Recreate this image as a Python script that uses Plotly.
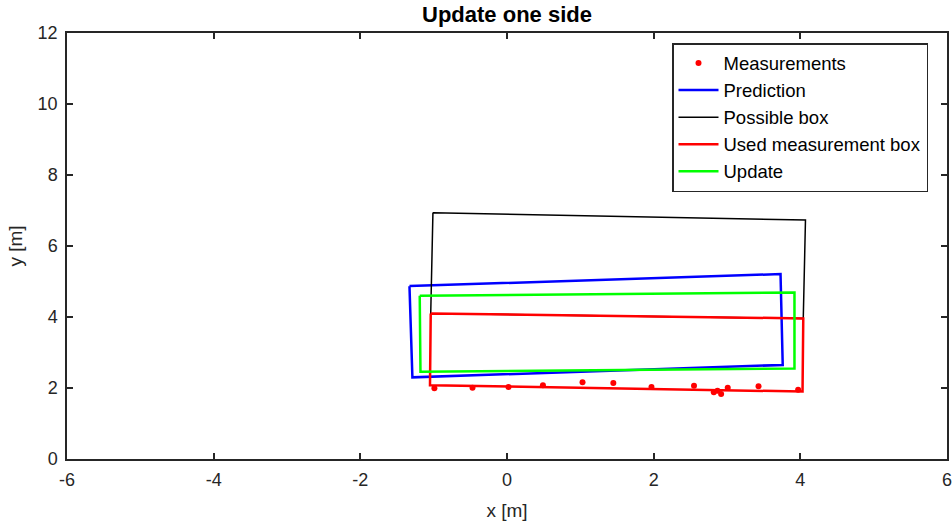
import plotly.graph_objects as go

# Measurements
meas_x = [-0.99, -0.47, 0.02, 0.49, 1.03, 1.45, 1.97, 2.55, 2.82, 2.87, 2.92, 3.01, 3.43, 3.97]
meas_y = [1.99, 2.01, 2.03, 2.08, 2.16, 2.14, 2.03, 2.06, 1.88, 1.92, 1.83, 2.01, 2.05, 1.95]

# Box corners (closed polygons)
pred_x = [-1.33, 3.73, 3.76, -1.29, -1.33]
pred_y = [4.87, 5.21, 2.65, 2.30, 4.87]

poss_x = [-1.01, 4.07, 4.04, -1.04, -1.01]
poss_y = [6.94, 6.73, 3.96, 4.10, 6.94]

used_x = [-1.04, 4.04, 4.03, -1.05, -1.04]
used_y = [4.10, 3.96, 1.90, 2.08, 4.10]

upd_x = [-1.19, 3.92, 3.92, -1.18, -1.19]
upd_y = [4.60, 4.69, 2.55, 2.46, 4.60]

x_ticks = [-6, -4, -2, 0, 2, 4, 6]
y_ticks = [0, 2, 4, 6, 8, 10, 12]

FONT = "Liberation Sans, Arial, sans-serif"

fig = go.Figure()
fig.add_trace(go.Scatter(x=meas_x, y=meas_y, mode="markers", name="Measurements",
                         marker=dict(color="red", size=6)))
fig.add_trace(go.Scatter(x=pred_x, y=pred_y, mode="lines", name="Prediction",
                         line=dict(color="#0000ff", width=2.5)))
fig.add_trace(go.Scatter(x=poss_x, y=poss_y, mode="lines", name="Possible box",
                         line=dict(color="black", width=1.5)))
fig.add_trace(go.Scatter(x=used_x, y=used_y, mode="lines", name="Used measurement box",
                         line=dict(color="#ff0000", width=2.5)))
fig.add_trace(go.Scatter(x=upd_x, y=upd_y, mode="lines", name="Update",
                         line=dict(color="#00ff00", width=2.5)))

axis_common = dict(
    showgrid=False, zeroline=False, showline=True, linecolor="#262626", linewidth=1.5,
    mirror="ticks", ticks="inside", ticklen=6, tickwidth=1.5, tickcolor="#262626",
    tickfont=dict(family=FONT, size=18, color="#262626"),
    automargin=False, ticklabeloverflow="allow", ticklabelstandoff=4,
)

fig.update_layout(
    width=952, height=528,
    margin=dict(l=67, r=5, t=33, b=69),
    paper_bgcolor="white", plot_bgcolor="white",
    title=dict(text="<b>Update one side</b>", x=0.5, xref="paper", xanchor="center",
               y=1 - 14 / 528, yref="container", yanchor="middle",
               font=dict(family=FONT, size=22, color="black")),
    xaxis=dict(range=[-6, 6], tickvals=x_ticks, ticktext=[str(v) for v in x_ticks],
               title=dict(text="x [m]", standoff=14,
                          font=dict(family=FONT, size=19, color="#262626")),
               **axis_common),
    yaxis=dict(range=[0, 12], tickvals=y_ticks, ticktext=[str(v) for v in y_ticks],
               title=dict(text="y [m]", standoff=10,
                          font=dict(family=FONT, size=19, color="#262626")),
               **axis_common),
    legend=dict(x=0.6875, y=0.9765, xanchor="left", yanchor="top",
                bgcolor="white", bordercolor="#262626", borderwidth=1.5,
                font=dict(family=FONT, size=18.5, color="black"),
                itemwidth=40, tracegroupgap=0),
    showlegend=True,
)

fig.write_html("out.html")
